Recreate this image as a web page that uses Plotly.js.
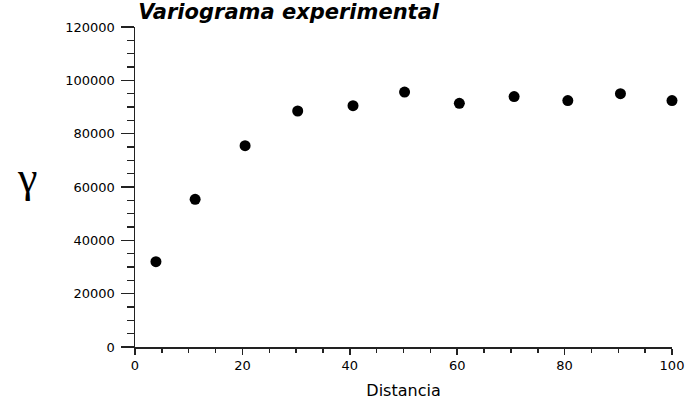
<!DOCTYPE html>
<html>
<head>
<meta charset="utf-8">
<script src="https://cdn.plot.ly/plotly-3.0.1.min.js"></script>
<style>html,body{margin:0;padding:0;background:#fff;}#chart{width:686px;height:400px;}</style>
</head>
<body>
<div id="chart"></div>
<script>
const distancia = [3.9, 11.2, 20.5, 30.3, 40.6, 50.2, 60.4, 70.6, 80.6, 90.4, 100];
const gamma = [32000, 55400, 75500, 88500, 90500, 95600, 91400, 93900, 92400, 95000, 92400];
const titleText = 'Variograma experimental';
const xTitle = 'Distancia';
const yTitle = 'γ';

const axisColor = '#222';
const trace = {
  x: distancia, y: gamma, type: 'scatter', mode: 'markers',
  marker: {color: '#000', size: 11, line: {width: 0}},
  cliponaxis: false, hoverinfo: 'none'
};
const layout = {
  width: 686, height: 400,
  margin: {l: 135, r: 14, t: 27, b: 53},
  paper_bgcolor: '#fff', plot_bgcolor: '#fff',
  showlegend: false,
  font: {family: 'DejaVu Sans, sans-serif', color: '#000'},
  title: {text: '<b><i>' + titleText + '</i></b>', x: 0.006, xref: 'paper', xanchor: 'left',
          y: 0.99, yanchor: 'top', font: {size: 21, family: 'DejaVu Sans, sans-serif', color: '#000'}},
  xaxis: {
    range: [0, 100], tickvals: [0, 20, 40, 60, 80, 100],
    ticks: 'outside', ticklen: 6, tickwidth: 1.5, tickcolor: axisColor,
    minor: {dtick: 5, ticks: 'outside', ticklen: 4, tickwidth: 1.5, tickcolor: axisColor},
    showline: true, linecolor: axisColor, linewidth: 1.5,
    showgrid: false, zeroline: false,
    tickfont: {size: 13, family: 'DejaVu Sans, sans-serif', color: '#000'},
    title: {text: xTitle, standoff: 12, font: {size: 16, family: 'DejaVu Sans, sans-serif', color: '#000'}}
  },
  yaxis: {
    range: [0, 120000], tickvals: [0, 20000, 40000, 60000, 80000, 100000, 120000],
    tickformat: 'd',
    ticks: 'outside', ticklen: 13, tickwidth: 1.5, tickcolor: axisColor,
    minor: {dtick: 5000, ticks: 'outside', ticklen: 7, tickwidth: 1.5, tickcolor: axisColor},
    showline: true, linecolor: axisColor, linewidth: 1.5,
    showgrid: false, zeroline: false,
    tickfont: {size: 13, family: 'DejaVu Sans, sans-serif', color: '#000'},
    ticklabelstandoff: 3
  },
  annotations: [{
    text: yTitle, xref: 'paper', yref: 'paper', x: -0.202, y: 0.53,
    xanchor: 'center', yanchor: 'middle', showarrow: false,
    font: {size: 44, family: 'Liberation Serif, serif', color: '#000'}
  }]
};
Plotly.newPlot('chart', [trace], layout, {staticPlot: true, displayModeBar: false});
</script>
</body>
</html>
